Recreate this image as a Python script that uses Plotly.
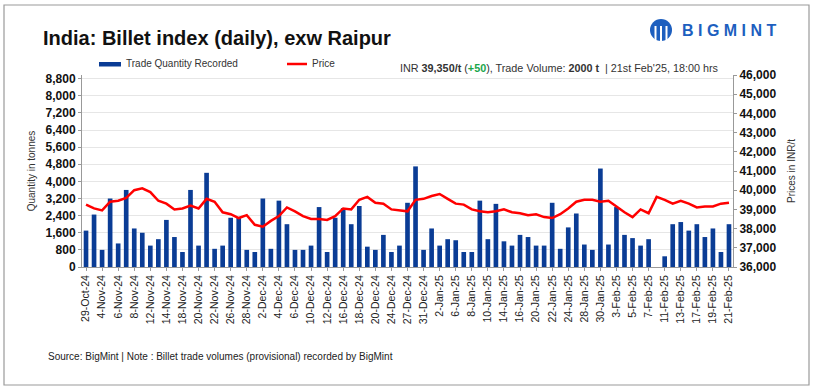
import plotly.graph_objects as go

dates = ["29-Oct-24","30-Oct-24","4-Nov-24","5-Nov-24","6-Nov-24","7-Nov-24","8-Nov-24","11-Nov-24","12-Nov-24","13-Nov-24",
         "14-Nov-24","16-Nov-24","18-Nov-24","19-Nov-24","20-Nov-24","21-Nov-24","22-Nov-24","25-Nov-24","26-Nov-24","27-Nov-24",
         "28-Nov-24","29-Nov-24","2-Dec-24","3-Dec-24","4-Dec-24","5-Dec-24","6-Dec-24","9-Dec-24","10-Dec-24","11-Dec-24",
         "12-Dec-24","13-Dec-24","16-Dec-24","17-Dec-24","18-Dec-24","19-Dec-24","20-Dec-24","23-Dec-24","24-Dec-24","26-Dec-24",
         "27-Dec-24","30-Dec-24","31-Dec-24","1-Jan-25","2-Jan-25","3-Jan-25","6-Jan-25","7-Jan-25","8-Jan-25","9-Jan-25",
         "10-Jan-25","13-Jan-25","14-Jan-25","15-Jan-25","16-Jan-25","17-Jan-25","20-Jan-25","21-Jan-25","22-Jan-25","23-Jan-25",
         "24-Jan-25","27-Jan-25","28-Jan-25","29-Jan-25","30-Jan-25","31-Jan-25","3-Feb-25","4-Feb-25","5-Feb-25","6-Feb-25",
         "7-Feb-25","10-Feb-25","11-Feb-25","12-Feb-25","13-Feb-25","14-Feb-25","17-Feb-25","18-Feb-25","19-Feb-25","20-Feb-25",
         "21-Feb-25"]

volume = [1700,2450,800,3200,1100,3600,1800,1600,1000,1300,
          2200,1400,700,3600,1000,4400,850,1000,2300,2300,
          800,700,3200,850,3100,2000,800,800,1000,2800,
          700,2300,2750,2000,2850,950,800,1500,700,1000,
          3000,4700,800,1800,1000,1300,1250,700,700,3100,
          1300,2950,1200,1000,1500,1400,1000,1000,3000,850,
          1850,2500,1050,800,4600,1050,2800,1500,1350,1000,
          1300,None,500,2000,2100,1700,2000,1400,1800,700,
          2000]

price = [39250,39050,38950,39400,39450,39600,40000,40100,39900,39450,
         39300,39000,39050,39200,39050,39550,39400,38850,38750,38550,
         38700,38200,38100,38400,38650,39100,38900,38650,38500,38500,
         38450,38650,39050,39000,39500,39650,39350,39300,39000,38950,
         38900,39500,39550,39700,39800,39550,39300,39250,39000,38900,
         38850,38900,39000,38850,38800,38700,38750,38600,38550,38750,
         39050,39400,39500,39500,39400,39450,39150,38850,38600,39000,
         38800,39650,39500,39300,39450,39300,39100,39150,39150,39300,
         39350]

left_ticks = list(range(0, 8801, 800))
right_ticks = list(range(36000, 46001, 1000))

W, H = 814, 390
L, R, T, B = 82, 81, 75, 123
PW, PH = W - L - R, H - T - B

def px(x):
    return (x - L) / PW

def py(y):
    return (H - B - y) / PH

REG = "Liberation Sans, Arial, sans-serif"
BAR_BLUE = "#0a3c95"

fig = go.Figure()
fig.add_trace(go.Bar(
    x=dates, y=volume, name="Trade Quantity Recorded",
    marker=dict(color=BAR_BLUE, line=dict(width=0)),
    yaxis="y", showlegend=False,
))
fig.add_trace(go.Scatter(
    x=dates, y=price, name="Price", mode="lines",
    line=dict(color="#ff0000", width=2.5),
    yaxis="y2", showlegend=False,
))

fig.update_layout(
    width=W, height=H,
    margin=dict(l=L, r=R, t=T, b=B, autoexpand=False),
    paper_bgcolor="white", plot_bgcolor="white",
    bargap=0.42,
    font=dict(family=REG, color="#222"),
    xaxis=dict(
        type="category", automargin=False,
        tickmode="array", tickvals=dates[::2], ticktext=dates[::2],
        tickangle=-90, tickfont=dict(family=REG, size=10.5, color="#222"),
        showline=True, linecolor="#999", linewidth=1,
        ticks="outside", ticklen=3, tickcolor="#999",
        showgrid=False, range=[-0.5, len(dates) - 0.5],
    ),
    yaxis=dict(
        automargin=False,
        range=[0, 8970], tickvals=left_ticks, tickformat=",",
        tickfont=dict(family=REG, size=12, color="#111", weight="bold"),
        showline=True, linecolor="#999", linewidth=1,
        ticks="outside", ticklen=3, tickcolor="#999",
        showgrid=True, gridcolor="#e6e6e6", gridwidth=1, zeroline=False,
        title=dict(text="Quantity in tonnes", font=dict(family=REG, size=10, color="#333"), standoff=8),
    ),
    yaxis2=dict(
        automargin=False,
        overlaying="y", side="right",
        range=[36000, 46000], tickvals=right_ticks, tickformat=",",
        tickfont=dict(family=REG, size=12, color="#111", weight="bold"),
        showline=True, linecolor="#999", linewidth=1,
        ticks="outside", ticklen=3, tickcolor="#999",
        showgrid=False, zeroline=False,
        title=dict(text="Prices in INR/t", font=dict(family=REG, size=10, color="#333"), standoff=12),
    ),
)

# outer frame
fig.add_shape(type="rect", xref="paper", yref="paper",
              x0=px(4), x1=px(809), y0=py(385), y1=py(5),
              line=dict(color="#9a9a9a", width=1.2), fillcolor="rgba(0,0,0,0)", layer="below")

# legend (manual)
fig.add_shape(type="rect", xref="paper", yref="paper",
              x0=px(99), x1=px(121), y0=py(66.5), y1=py(62),
              line=dict(width=0), fillcolor=BAR_BLUE)
fig.add_annotation(xref="paper", yref="paper", x=px(124), y=py(64), xanchor="left", yanchor="middle",
                   text="Trade Quantity Recorded", showarrow=False,
                   font=dict(family=REG, size=10, color="#333"))
fig.add_shape(type="line", xref="paper", yref="paper",
              x0=px(287), x1=px(307), y0=py(64), y1=py(64),
              line=dict(color="#ff0000", width=2.5))
fig.add_annotation(xref="paper", yref="paper", x=px(310), y=py(64), xanchor="left", yanchor="middle",
                   text="Price", showarrow=False,
                   font=dict(family=REG, size=10, color="#333"))

# title
fig.add_annotation(xref="paper", yref="paper", x=px(41), y=py(38), xanchor="left", yanchor="middle",
                   text="<b>India: Billet index (daily), exw Raipur</b>", showarrow=False,
                   font=dict(family=REG, size=20, color="#111"))

# info line
fig.add_annotation(xref="paper", yref="paper", x=px(721), y=py(68), xanchor="right", yanchor="middle",
                   text="INR <b>39,350/t</b> (<b><span style='color:#1aa64a'>+50</span></b>), Trade Volume: <b>2000 t</b>  | 21st Feb'25, 18:00 hrs",
                   showarrow=False, font=dict(family=REG, size=10.8, color="#333"))

# source
fig.add_annotation(xref="paper", yref="paper", x=px(46), y=py(356), xanchor="left", yanchor="middle",
                   text="Source: BigMint | Note : Billet trade volumes (provisional) recorded by BigMint",
                   showarrow=False, font=dict(family=REG, size=10, color="#222"))

# logo
BLUE = "#1d5fbf"
fig.add_shape(type="circle", xref="paper", yref="paper",
              x0=px(650), x1=px(672), y0=py(41), y1=py(19),
              line=dict(width=0), fillcolor=BLUE)
for xs in (655.5, 661, 666.5):
    fig.add_shape(type="line", xref="paper", yref="paper",
                  x0=px(xs), x1=px(xs), y0=py(26), y1=py(43),
                  line=dict(color="white", width=2))
fig.add_annotation(xref="paper", yref="paper", x=px(680), y=py(31), xanchor="left", yanchor="middle",
                   text="<b>B I G M I N T</b>", showarrow=False,
                   font=dict(family=REG, size=16, color=BLUE))

fig.write_html("out.html", config={"displayModeBar": False},
               post_script="document.body.style.margin='0px';")
